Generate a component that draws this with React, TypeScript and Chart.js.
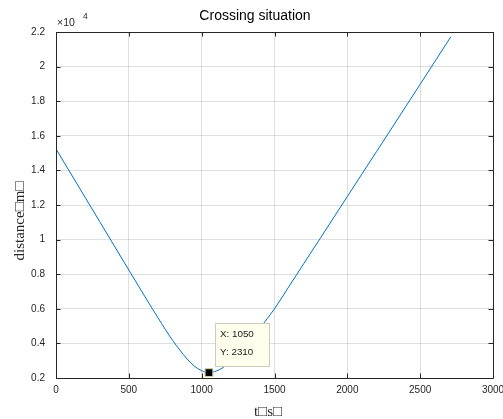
import React, { useEffect, useRef } from "react";
import { Chart, registerables } from "chart.js";

Chart.register(...registerables);

// Distance between the two vessels over time
const timeS = [0, 100, 200, 300, 400, 500, 600, 700, 800, 850, 900, 950, 1000, 1050, 1100, 1150, 1200, 1250, 1300, 1350, 1400, 1450, 1500, 1600, 1700, 1800, 1900, 2000, 2100, 2200, 2300, 2400, 2500, 2600, 2710];
const distanceM = [15240, 13840, 12440, 11040, 9640, 8240, 6850, 5480, 4180, 3620, 3100, 2690, 2420, 2310, 2400, 2620, 2930, 3320, 3790, 4320, 4880, 5430, 6000, 7300, 8600, 9890, 11190, 12490, 13790, 15080, 16380, 17680, 18980, 20280, 21720];

const xTickValues = [0, 500, 1000, 1500, 2000, 2500, 3000];
const yTickValues = [2000, 4000, 6000, 8000, 10000, 12000, 14000, 16000, 18000, 20000, 22000];

// Data tip on the closest point of approach
const tipT = 1050;
const tipD = 2310;

const titleText = "Crossing situation";
const xLabel = "t\u25a1s\u25a1";
const yLabel = "distance\u25a1m\u25a1";

const SANS = '"Liberation Sans", Arial, sans-serif';
const SERIF = '"Liberation Serif", "Times New Roman", serif';
const AXIS_COLOR = "#262626";
const TICK_LEN = 4.5;

const axesPlugin = {
  id: "matlabAxes",
  afterDatasetsDraw(chart: any) {
    const { ctx, chartArea: a, scales } = chart;
    const x = scales.x;
    const y = scales.y;
    ctx.save();
    ctx.strokeStyle = AXIS_COLOR;
    ctx.lineWidth = 1;
    ctx.beginPath();
    ctx.rect(Math.round(a.left) + 0.5, Math.round(a.top) + 0.5, Math.round(a.right - a.left), Math.round(a.bottom - a.top));
    for (const v of xTickValues) {
      const px = Math.round(x.getPixelForValue(v)) + 0.5;
      ctx.moveTo(px, a.bottom);
      ctx.lineTo(px, a.bottom - TICK_LEN);
      ctx.moveTo(px, a.top);
      ctx.lineTo(px, a.top + TICK_LEN);
    }
    for (const v of yTickValues) {
      const py = Math.round(y.getPixelForValue(v)) + 0.5;
      ctx.moveTo(a.left, py);
      ctx.lineTo(a.left + TICK_LEN, py);
      ctx.moveTo(a.right, py);
      ctx.lineTo(a.right - TICK_LEN, py);
    }
    ctx.stroke();

    // data tip box
    const mx = x.getPixelForValue(tipT);
    const my = y.getPixelForValue(tipD);
    const bx = Math.round(mx + 6.5) + 0.5;
    const by = Math.round(my - 50) + 0.5;
    const bw = 54;
    const bh = 43;
    ctx.fillStyle = "#ffffee";
    ctx.strokeStyle = "#cdcdbc";
    ctx.fillRect(bx, by, bw, bh);
    ctx.strokeRect(bx, by, bw, bh);
    ctx.fillStyle = "#1a1a1a";
    ctx.font = `9.8px ${SANS}`;
    ctx.textAlign = "left";
    ctx.textBaseline = "middle";
    ctx.fillText(`X: ${tipT}`, bx + 4.5, by + 11);
    ctx.fillText(`Y: ${tipD}`, bx + 4.5, by + 29);
    ctx.restore();
  },
  afterDraw(chart: any) {
    const { ctx, chartArea: a } = chart;
    ctx.save();
    ctx.fillStyle = "#000";
    ctx.font = `14px ${SANS}`;
    ctx.textAlign = "center";
    ctx.textBaseline = "alphabetic";
    ctx.fillText(titleText, 255, 20);

    // exponent label
    ctx.fillStyle = AXIS_COLOR;
    ctx.textAlign = "left";
    ctx.font = `10.5px ${SANS}`;
    ctx.fillText("\u00d710", a.left + 1, 26);
    ctx.font = `8.5px ${SANS}`;
    ctx.fillText("4", a.left + 27, 18.5);

    // axis labels
    ctx.fillStyle = "#262626";
    ctx.font = `15px ${SERIF}`;
    ctx.textAlign = "center";
    ctx.fillText(xLabel, 268, 416);
    ctx.translate(24, 221);
    ctx.rotate(-Math.PI / 2);
    ctx.fillText(yLabel, 0, 0);
    ctx.restore();
  },
};

export default function App() {
  const canvasRef = useRef<HTMLCanvasElement | null>(null);

  useEffect(() => {
    const canvas = canvasRef.current;
    if (!canvas) return;
    const points = timeS.map((t, i) => ({ x: t, y: distanceM[i] }));
    const chart = new Chart(canvas, {
      type: "line",
      data: {
        datasets: [
          {
            data: points,
            borderColor: "#0072BD",
            borderWidth: 1,
            pointRadius: 0,
            fill: false,
            cubicInterpolationMode: "monotone",
            order: 2,
          },
          {
            type: "scatter",
            data: [{ x: tipT, y: tipD }],
            pointStyle: "rect",
            pointRadius: 5.5,
            backgroundColor: "#000",
            borderColor: "#d6cfa8",
            borderWidth: 1,
            clip: false,
            order: 1,
          } as any,
        ],
      },
      options: {
        responsive: false,
        animation: false,
        devicePixelRatio: 1,
        layout: { padding: { left: 0, right: 10, top: 32, bottom: 0 } },
        plugins: {
          legend: { display: false },
          tooltip: { enabled: false },
          title: { display: false },
        },
        events: [],
        scales: {
          x: {
            type: "linear",
            min: 0,
            max: 3000,
            afterBuildTicks: (s: any) => {
              s.ticks = xTickValues.map((v) => ({ value: v }));
            },
            afterFit: (s: any) => {
              s.height = 41;
              s.paddingLeft = 0;
              s.paddingRight = 0;
            },
            grid: { color: "rgba(38,38,38,0.15)", drawTicks: false, lineWidth: 1 },
            border: { display: false },
            ticks: {
              color: AXIS_COLOR,
              font: { family: SANS, size: 10 },
              padding: 6,
              maxRotation: 0,
              callback: (v: any) => String(v),
            },
          },
          y: {
            type: "linear",
            min: 2000,
            max: 22000,
            afterBuildTicks: (s: any) => {
              s.ticks = yTickValues.map((v) => ({ value: v }));
            },
            afterFit: (s: any) => {
              s.width = 56;
              s.paddingTop = 0;
              s.paddingBottom = 0;
            },
            grid: { color: "rgba(38,38,38,0.15)", drawTicks: false, lineWidth: 1 },
            border: { display: false },
            ticks: {
              color: AXIS_COLOR,
              font: { family: SANS, size: 10 },
              padding: 11,
              callback: (v: any) => String(parseFloat((Number(v) / 10000).toFixed(1))),
            },
          },
        },
      },
      plugins: [axesPlugin],
    });
    return () => chart.destroy();
  }, []);

  return (
    <div style={{ position: "fixed", left: 0, top: 0, width: 503, height: 419, background: "#fff" }}>
      <canvas ref={canvasRef} width={503} height={419} />
    </div>
  );
}
